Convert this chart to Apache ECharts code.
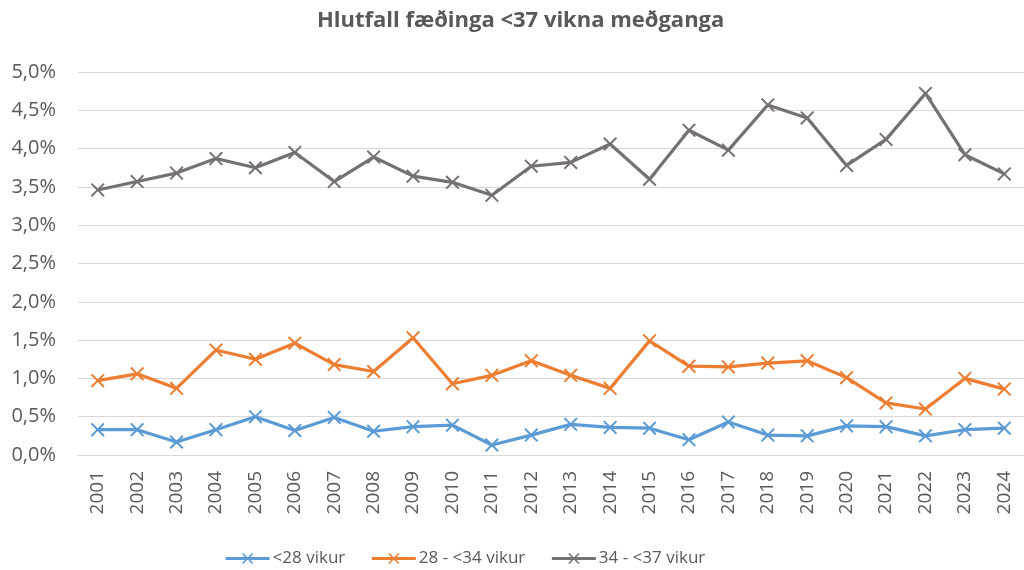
<!DOCTYPE html>
<html>
<head>
<meta charset="utf-8">
<script src="https://cdn.jsdelivr.net/npm/echarts@6/dist/echarts.min.js"></script>
<style>
html,body{margin:0;padding:0;background:#fff;}
#chart{width:1024px;height:570px;}
</style>
</head>
<body>
<div id="chart"></div>
<script>
const titleText = 'Hlutfall fæðinga <37 vikna meðganga';
const years = ['2001','2002','2003','2004','2005','2006','2007','2008','2009','2010','2011','2012','2013','2014','2015','2016','2017','2018','2019','2020','2021','2022','2023','2024'];
const seriesNames = ['<28 vikur', '28 - <34 vikur', '34 - <37 vikur'];
const under28 = [0.33,0.33,0.17,0.33,0.50,0.32,0.49,0.31,0.37,0.39,0.13,0.26,0.40,0.36,0.35,0.20,0.43,0.26,0.25,0.38,0.37,0.25,0.33,0.35];
const w28to34 = [0.97,1.06,0.87,1.37,1.25,1.46,1.18,1.09,1.53,0.93,1.04,1.23,1.04,0.87,1.49,1.16,1.15,1.20,1.23,1.01,0.68,0.60,1.00,0.86];
const w34to37 = [3.46,3.57,3.68,3.87,3.75,3.95,3.57,3.89,3.64,3.56,3.39,3.77,3.82,4.06,3.60,4.24,3.98,4.57,4.40,3.78,4.12,4.72,3.92,3.67];
const yTicks = {min: 0, max: 5, interval: 0.5};
const colors = ['#5B9BD5', '#ED7D31', '#767171'];

const xMark = 'path://M0,2L2,0L10,8L18,0L20,2L12,10L20,18L18,20L10,12L2,20L0,18L8,10Z';
const fontFam = '"Open Sans", sans-serif';

function mk(name, data, color) {
  return {
    name: name, type: 'line', data: data,
    symbol: xMark, symbolSize: 14,
    lineStyle: {color: color, width: 3.2},
    itemStyle: {color: color},
    emphasis: {disabled: true},
    z: 2
  };
}

const chart = echarts.init(document.getElementById('chart'), null, {renderer: 'canvas'});
chart.setOption({
  animation: false,
  backgroundColor: '#fff',
  title: {
    text: titleText, left: 317, top: 10, padding: 0,
    textStyle: {fontFamily: fontFam, fontSize: 22, fontWeight: 'bold', color: '#595959'}
  },
  legend: {
    left: 224, top: 550, padding: 0,
    itemWidth: 44, itemHeight: 14, itemGap: 25,
    lineStyle: {width: 3.2},
    textStyle: {fontFamily: fontFam, fontSize: 17, color: '#595959', padding: [0,0,0,-2]},
    data: seriesNames
  },
  grid: {left: 78, width: 950, top: 72, bottom: 115, containLabel: false},
  xAxis: {
    type: 'category', data: years, boundaryGap: true,
    axisLine: {show: true, lineStyle: {color: '#D9D9D9', width: 1}},
    axisTick: {show: false},
    axisLabel: {rotate: 90, margin: 16, fontFamily: fontFam, fontSize: 19, color: '#595959'}
  },
  yAxis: {
    type: 'value', min: yTicks.min, max: yTicks.max, interval: yTicks.interval,
    axisLine: {show: false}, axisTick: {show: false},
    splitLine: {lineStyle: {color: '#D9D9D9', width: 1}},
    axisLabel: {
      margin: 22, fontFamily: fontFam, fontSize: 20, color: '#595959',
      formatter: v => v.toFixed(1).replace('.', ',') + '%'
    }
  },
  series: [
    mk(seriesNames[0], under28, colors[0]),
    mk(seriesNames[1], w28to34, colors[1]),
    mk(seriesNames[2], w34to37, colors[2])
  ]
});
</script>
</body>
</html>
